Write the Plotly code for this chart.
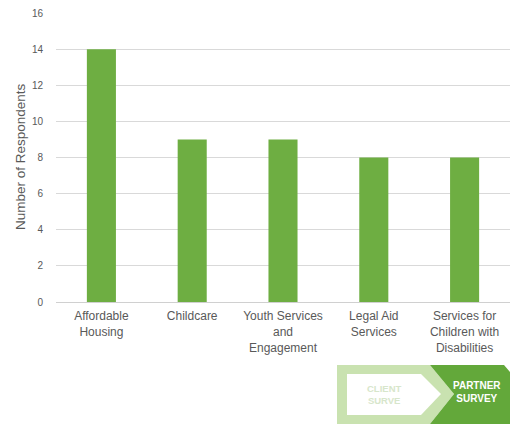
import plotly.graph_objects as go

# Partner survey: most-needed services
categories = [
    "Affordable<br>Housing",
    "Childcare",
    "Youth Services<br>and<br>Engagement",
    "Legal Aid<br>Services",
    "Services for<br>Children with<br>Disabilities",
]
respondents = [14, 9, 9, 8, 8]
y_ticks = [0, 2, 4, 6, 8, 10, 12, 14, 16]

W, H = 510, 426
L, R, T, B = 56, 0, 13, 124
PW, PH = W - L - R, H - T - B
FONT = "Liberation Sans, Arial, sans-serif"


def px(x, y):
    """Pixel position -> paper coordinates."""
    return (x - L) / PW, (H - B - y) / PH


def path(points):
    pts = [px(x, y) for x, y in points]
    return "M " + " L ".join(f"{a:.4f},{b:.4f}" for a, b in pts) + " Z"


GREEN = "#6EAE42"
DARK_GREEN = "#63A83A"
LIGHT_GREEN = "#C9E2B0"

fig = go.Figure(
    go.Bar(
        x=categories,
        y=respondents,
        marker=dict(color=GREEN, line=dict(width=0)),
        width=0.32,
        hoverinfo="x+y",
    )
)

shapes = [
    # client survey tab (faded)
    dict(type="path", path=path([(337, 365), (430, 365), (454, 394), (430, 424), (337, 424)]),
         fillcolor=LIGHT_GREEN, line=dict(width=0), xref="paper", yref="paper", layer="above"),
    dict(type="path", path=path([(347, 374), (421, 374), (441, 394), (421, 415), (347, 415)]),
         fillcolor="#FFFFFF", line=dict(width=0), xref="paper", yref="paper", layer="above"),
    # partner survey tab (active)
    dict(type="path", path=path([(430, 365), (504, 365), (510, 372), (510, 424), (430, 424), (454, 394)]),
         fillcolor=DARK_GREEN, line=dict(width=0), xref="paper", yref="paper", layer="above"),
]


def label(text, x, y, size, color, angle=0):
    ax, ay = px(x, y)
    return dict(text=text, x=ax, y=ay, xref="paper", yref="paper", xanchor="center",
                yanchor="middle", showarrow=False, align="center", textangle=angle,
                font=dict(family=FONT, size=size, color=color))


annotations = [
    label("Number of Respondents", 20, 157, 13.5, "#595959", angle=-90),
    label("<b>CLIENT<br>SURVE</b>", 384, 394, 9.5, "#D7E6CB"),
    label("<b>PARTNER<br>SURVEY</b>", 477, 392, 10, "#FFFFFF"),
]

fig.update_layout(
    width=W,
    height=H,
    margin=dict(l=L, r=R, t=T, b=B, pad=0),
    paper_bgcolor="#FFFFFF",
    plot_bgcolor="#FFFFFF",
    showlegend=False,
    shapes=shapes,
    annotations=annotations,
    xaxis=dict(
        showgrid=False,
        showline=True,
        linecolor="#D0D0D0",
        linewidth=1,
        ticks="",
        ticklabelstandoff=3,
        tickfont=dict(family=FONT, size=12, color="#595959"),
        fixedrange=True,
    ),
    yaxis=dict(
        range=[0, 16],
        tickvals=y_ticks,
        showgrid=True,
        gridcolor="#D9D9D9",
        gridwidth=1,
        zeroline=False,
        showline=False,
        ticks="",
        ticklabelstandoff=12,
        tickfont=dict(family=FONT, size=10, color="#595959"),
        fixedrange=True,
    ),
)

fig.write_html("out.html", config={"displayModeBar": False})
